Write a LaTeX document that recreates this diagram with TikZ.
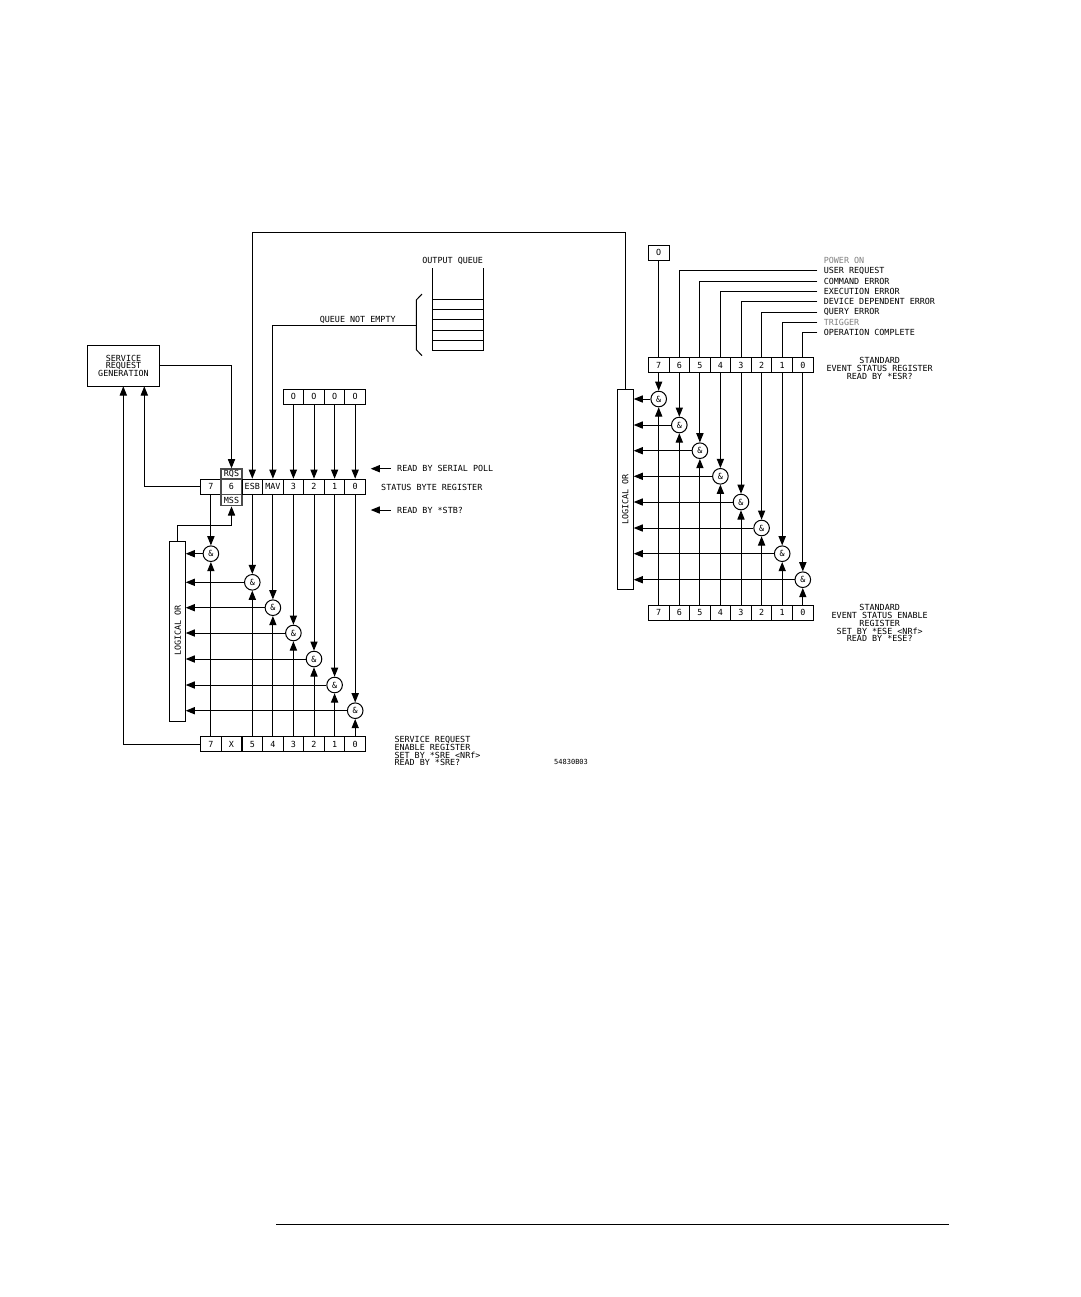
\documentclass[tikz,border=0pt]{standalone}
\usepackage{fontspec}
\usepackage{tikz}
\usetikzlibrary{positioning,calc}
\usetikzlibrary{arrows.meta}
\newfontfamily\plotfont{DejaVu Sans Mono}
\tikzset{
  txt/.style={inner sep=0pt,font=\plotfont\fontsize{4.2pt}{3.85pt}\selectfont},
  cell/.style={txt,draw,minimum width=10.3pt,minimum height=7.5pt},
  wcell/.style={cell,minimum width=10.5pt,draw=black!70,line width=0.65pt},
  andgate/.style={txt,draw,circle,fill=white,minimum size=7.8pt},
  orbox/.style={draw,minimum width=7.9pt},
  sig/.style={-{Triangle[length=4.6pt,width=3.6pt]}},
  side/.style={txt,anchor=west,inner xsep=3pt}
}
\begin{document}
\begin{tikzpicture}[x=0.5pt,y=-0.5pt,line width=0.5pt]
    \useasboundingbox (0,0) rectangle (1081,1297);
    % service request generation
    \node[txt,draw,minimum width=36.2pt,minimum height=20.5pt,align=center] (srg) at (123.5,365.8) {SERVICE\\REQUEST\\GENERATION};
    \coordinate (srgin) at (144.3,386.3);
    \coordinate (srgout) at (123.3,386.3);
    % status byte register
    \node[cell] (s7) at (210.9,486.7) {7};
    \node[wcell,minimum height=5pt] (rqs) at (231.5,474) {RQS};
    \node[wcell,minimum height=5.7pt] (mss) at (231.5,500) {MSS};
    \node[wcell] (s6) at (231.5,486.7) {6};
    \node[cell] (esb) at (252.3,486.7) {ESB};
    \node[cell] (mav) at (272.9,486.7) {MAV};
    \node[cell] (s3) at (293.4,486.7) {3};
    \node[cell] (s2) at (314,486.7) {2};
    \node[cell] (s1) at (334.6,486.7) {1};
    \node[cell] (s0) at (355.2,486.7) {0};
    \node[cell] (z3) at (293.4,396.8) {O};
    \node[cell] (z2) at (314,396.8) {O};
    \node[cell] (z1) at (334.6,396.8) {O};
    \node[cell] (z0) at (355.2,396.8) {O};
    % service request enable register
    \node[cell] (n7) at (210.9,744) {7};
    \node[cell] (nx) at (231.5,744) {X};
    \node[cell] (n5) at (252.3,744) {5};
    \node[cell] (n4) at (272.9,744) {4};
    \node[cell] (n3) at (293.4,744) {3};
    \node[cell] (n2) at (314,744) {2};
    \node[cell] (n1) at (334.6,744) {1};
    \node[cell] (n0) at (355.2,744) {0};
    \node[orbox,minimum height=90.2pt] (orl) at (177.3,631.2) {};
    \node[txt,rotate=90] (orltxt) at (177.7,630.7) {LOGICAL OR};
    \node[andgate] (a7) at (210.9,553.7) {\&};
    \node[andgate] (a5) at (252.3,582.3) {\&};
    \node[andgate] (a4) at (272.9,607.7) {\&};
    \node[andgate] (a3) at (293.4,633) {\&};
    \node[andgate] (a2) at (314,659) {\&};
    \node[andgate] (a1) at (334.6,685) {\&};
    \node[andgate] (a0) at (355.2,710.7) {\&};
    \draw[sig] (s7.south) -- (a7.north);
    \draw[sig] (esb.south) -- (a5.north);
    \draw[sig] (mav.south) -- (a4.north);
    \draw[sig] (s3.south) -- (a3.north);
    \draw[sig] (s2.south) -- (a2.north);
    \draw[sig] (s1.south) -- (a1.north);
    \draw[sig] (s0.south) -- (a0.north);
    \draw[sig] (n7.north) -- (a7.south);
    \draw[sig] (n5.north) -- (a5.south);
    \draw[sig] (n4.north) -- (a4.south);
    \draw[sig] (n3.north) -- (a3.south);
    \draw[sig] (n2.north) -- (a2.south);
    \draw[sig] (n1.north) -- (a1.south);
    \draw[sig] (n0.north) -- (a0.south);
    \draw[sig] (a7.west) -- (a7.west -| orl.east);
    \draw[sig] (a5.west) -- (a5.west -| orl.east);
    \draw[sig] (a4.west) -- (a4.west -| orl.east);
    \draw[sig] (a3.west) -- (a3.west -| orl.east);
    \draw[sig] (a2.west) -- (a2.west -| orl.east);
    \draw[sig] (a1.west) -- (a1.west -| orl.east);
    \draw[sig] (a0.west) -- (a0.west -| orl.east);
    \draw[sig] (z3.south) -- (s3.north);
    \draw[sig] (z2.south) -- (s2.north);
    \draw[sig] (z1.south) -- (s1.north);
    \draw[sig] (z0.south) -- (s0.north);
    \draw[sig] (srg.east) -| (rqs.north);
    \draw[sig] (s7.west) -| (srgin);
    \draw[sig] (n7.west) -| (srgout);
    \draw[sig] (orl.north) -- ++(0,-15.3) -| (mss.south);
    % labels beside the left registers
    \node[side] (rdpoll) at (390.7,468.7) {READ BY SERIAL POLL};
    \coordinate (rdpollend) at (370.7,468.7);
    \draw[sig] (rdpoll.west) -- (rdpollend);
    \node[side] (rdstb) at (390.7,510) {READ BY *STB?};
    \coordinate (rdstbend) at (370.7,510);
    \draw[sig] (rdstb.west) -- (rdstbend);
    \node[txt,anchor=west] (stbtxt) at (380.7,487) {STATUS BYTE REGISTER};
    \node[txt,anchor=north west,align=left] (sretxt) at (394,736) {SERVICE REQUEST\\ENABLE REGISTER\\SET BY *SRE <NRf>\\READ BY *SRE?};
    \node[txt,anchor=west,font=\plotfont\fontsize{3.5pt}{4pt}\selectfont] (partno) at (553.7,761.7) {54830B03};
    % output queue
    \node[txt] (qtxt) at (452.7,260.7) {OUTPUT QUEUE};
    \draw (432.3,268.3) -- (432.3,350.3) -- (483.3,350.3) -- (483.3,268.3);
    \draw (432.3,299) -- (483.3,299);
    \draw (432.3,309.3) -- (483.3,309.3);
    \draw (432.3,319.7) -- (483.3,319.7);
    \draw (432.3,330) -- (483.3,330);
    \draw (432.3,340.3) -- (483.3,340.3);
    \draw (422,294) -- (416.3,300) -- (416.3,349.7) -- (422,355.7);
    \coordinate (qbrace) at (416.3,325);
    \draw[sig] (qbrace) -| (mav.north);
    \node[txt] (qnetxt) at (357.7,319.7) {QUEUE NOT EMPTY};
    % standard event status register
    \node[cell] (e7) at (658.7,365.2) {7};
    \node[cell] (e6) at (679.3,365.2) {6};
    \node[cell] (e5) at (699.9,365.2) {5};
    \node[cell] (e4) at (720.4,365.2) {4};
    \node[cell] (e3) at (741,365.2) {3};
    \node[cell] (e2) at (761.6,365.2) {2};
    \node[cell] (e1) at (782.2,365.2) {1};
    \node[cell] (e0) at (802.8,365.2) {0};
    \node[cell] (ez) at (658.7,252.8) {O};
    \draw (ez.south) -- (e7.north);
    \node[side,text=black!50] (lbon) at (817.3,260.3) {POWER ON};
    \node[side] (lbuser) at (817.3,270.7) {USER REQUEST};
    \node[side] (lbcmd) at (817.3,281) {COMMAND ERROR};
    \node[side] (lbexe) at (817.3,291.3) {EXECUTION ERROR};
    \node[side] (lbdev) at (817.3,301.7) {DEVICE DEPENDENT ERROR};
    \node[side] (lbqry) at (817.3,312) {QUERY ERROR};
    \node[side,text=black!50] (lbtrg) at (817.3,322.3) {TRIGGER};
    \node[side] (lbopc) at (817.3,332.7) {OPERATION COMPLETE};
    \draw (lbuser.west) -| (e6.north);
    \draw (lbcmd.west) -| (e5.north);
    \draw (lbexe.west) -| (e4.north);
    \draw (lbdev.west) -| (e3.north);
    \draw (lbqry.west) -| (e2.north);
    \draw (lbtrg.west) -| (e1.north);
    \draw (lbopc.west) -| (e0.north);
    \node[txt,align=center] (esrtxt) at (879.7,368.4) {STANDARD\\EVENT STATUS REGISTER\\READ BY *ESR?};
    % standard event status enable register
    \node[cell] (f7) at (658.7,612.8) {7};
    \node[cell] (f6) at (679.3,612.8) {6};
    \node[cell] (f5) at (699.9,612.8) {5};
    \node[cell] (f4) at (720.4,612.8) {4};
    \node[cell] (f3) at (741,612.8) {3};
    \node[cell] (f2) at (761.6,612.8) {2};
    \node[cell] (f1) at (782.2,612.8) {1};
    \node[cell] (f0) at (802.8,612.8) {0};
    \node[orbox,minimum height=100.4pt] (orr) at (625.3,489.4) {};
    \node[txt,rotate=90] (orrtxt) at (625.3,499.3) {LOGICAL OR};
    \node[andgate] (b7) at (658.7,399) {\&};
    \node[andgate] (b6) at (679.3,425) {\&};
    \node[andgate] (b5) at (699.9,450.7) {\&};
    \node[andgate] (b4) at (720.4,476.3) {\&};
    \node[andgate] (b3) at (741,502) {\&};
    \node[andgate] (b2) at (761.6,528) {\&};
    \node[andgate] (b1) at (782.2,553.7) {\&};
    \node[andgate] (b0) at (802.8,579.7) {\&};
    \draw[sig] (e7.south) -- (b7.north);
    \draw[sig] (e6.south) -- (b6.north);
    \draw[sig] (e5.south) -- (b5.north);
    \draw[sig] (e4.south) -- (b4.north);
    \draw[sig] (e3.south) -- (b3.north);
    \draw[sig] (e2.south) -- (b2.north);
    \draw[sig] (e1.south) -- (b1.north);
    \draw[sig] (e0.south) -- (b0.north);
    \draw[sig] (f7.north) -- (b7.south);
    \draw[sig] (f6.north) -- (b6.south);
    \draw[sig] (f5.north) -- (b5.south);
    \draw[sig] (f4.north) -- (b4.south);
    \draw[sig] (f3.north) -- (b3.south);
    \draw[sig] (f2.north) -- (b2.south);
    \draw[sig] (f1.north) -- (b1.south);
    \draw[sig] (f0.north) -- (b0.south);
    \draw[sig] (b7.west) -- (b7.west -| orr.east);
    \draw[sig] (b6.west) -- (b6.west -| orr.east);
    \draw[sig] (b5.west) -- (b5.west -| orr.east);
    \draw[sig] (b4.west) -- (b4.west -| orr.east);
    \draw[sig] (b3.west) -- (b3.west -| orr.east);
    \draw[sig] (b2.west) -- (b2.west -| orr.east);
    \draw[sig] (b1.west) -- (b1.west -| orr.east);
    \draw[sig] (b0.west) -- (b0.west -| orr.east);
    \node[txt,align=center] (esetxt) at (879.7,623.3) {STANDARD\\EVENT STATUS ENABLE\\REGISTER\\SET BY *ESE <NRf>\\READ BY *ESE?};
    % feedback from the event register
    \coordinate (fbturn) at (252.3,232.3);
    \draw[sig] (orr.north) |- (fbturn) -- (esb.north);
    % page rule
    \coordinate (rulea) at (276,1224.3);
    \coordinate (ruleb) at (949,1224.3);
    \draw[line width=0.7pt] (rulea) -- (ruleb);
\end{tikzpicture}
\end{document}
